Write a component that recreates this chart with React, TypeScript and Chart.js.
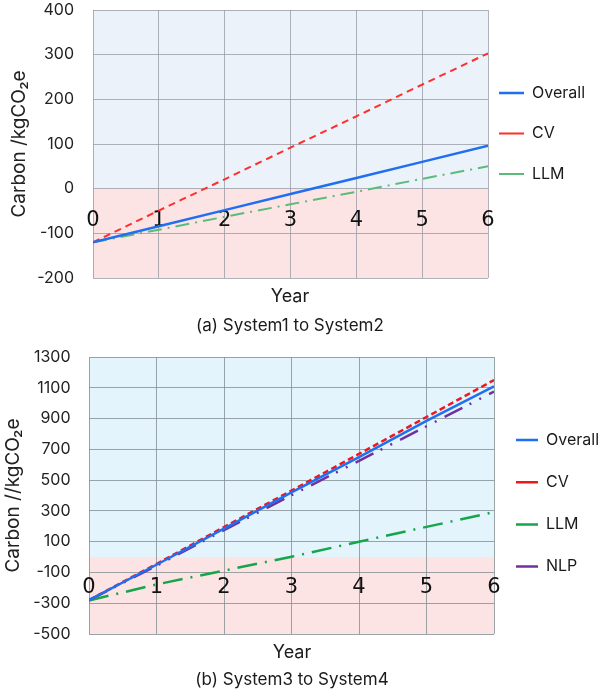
import React, { useEffect, useRef } from "react";
import { Chart, registerables } from "chart.js";
Chart.register(...registerables);

// ---------- (a) System1 to System2 ----------
const years = [0, 1, 2, 3, 4, 5, 6];
const aOverall = [-120, -84, -48, -12, 24, 60, 96];
const aCV = [-120, -49, 21, 92, 162, 233, 303];
const aLLM = [-120, -92, -63, -35, -7, 22, 50];
const aYMin = -200;
const aYMax = 400;
const aYStep = 100;

// ---------- (b) System3 to System4 ----------
const bOverall = [-280, -50, 185, 420, 650, 885, 1110];
const bCV = [-280, -45, 195, 432, 670, 910, 1150];
const bLLM = [-282, -178, -88, 2, 100, 196, 292];
const bNLP = [-280, -57, 175, 402, 625, 850, 1075];
const bYMin = -500;
const bYMax = 1300;
const bYStep = 200;

const xMin = 0;
const xMax = 6;

const bands = (above: string, below: string) => ({
  id: "bands",
  beforeDraw(chart: any) {
    const { ctx, chartArea, scales } = chart;
    const { left, right, top, bottom } = chartArea;
    const z = scales.y.getPixelForValue(0);
    ctx.save();
    ctx.fillStyle = above;
    ctx.fillRect(left, top, right - left, z - top);
    ctx.fillStyle = below;
    ctx.fillRect(left, z, right - left, bottom - z);
    ctx.restore();
  },
});

const placeLegend = (x: number, centerY: number) => ({
  id: "placeLegend",
  afterLayout(chart: any) {
    const lg = chart.legend;
    if (!lg) return;
    const P = lg.options.labels.padding;
    const fs = lg.options.labels.font.size;
    lg.left = x - P;
    lg.right = lg.left + 300;
    lg.top = centerY - fs / 2 - P;
    lg.bottom = lg.top + 400;
  },
});

type Series = { label: string; values: number[]; color: string; width: number; dash: number[] };

function makeConfig(o: any) {
  return {
    type: "line",
    data: {
      datasets: o.series.map((s: Series) => ({
        label: s.label,
        data: years.map((x, i) => ({ x, y: s.values[i] })),
        borderColor: s.color,
        backgroundColor: s.color,
        borderWidth: s.width,
        borderDash: s.dash,
        pointRadius: 0,
        tension: 0,
        fill: false,
      })),
    },
    options: {
      responsive: false,
      animation: false,
      devicePixelRatio: 1,
      layout: { padding: { left: 0, right: o.padRight, top: o.padTop, bottom: o.padBottom } },
      plugins: {
        legend: {
          position: "chartArea",
          align: "start",
          labels: {
            usePointStyle: true,
            pointStyle: "line",
            pointStyleWidth: o.legendLineW,
            padding: o.legendPad,
            font: { family: "Inter", size: 16 },
            color: "#1a1a1a",
          },
        },
        tooltip: { enabled: false },
      },
      scales: {
        x: {
          type: "linear",
          position: { y: 0 },
          min: xMin,
          max: xMax,
          afterFit: (s: any) => {
            s.height = 0;
            s.paddingLeft = 0;
            s.paddingRight = 0;
          },
          ticks: {
            stepSize: 1,
            font: { family: "DejaVu Sans", size: 21 },
            color: "#111",
            padding: o.xTickPad,
            maxRotation: 0,
          },
          grid: { color: o.gridColor, lineWidth: 1, drawTicks: false },
          border: { display: false },
        },
        y: {
          type: "linear",
          min: o.yMin,
          max: o.yMax,
          afterFit: (s: any) => {
            s.width = o.yWidth;
            s.paddingTop = 0;
            s.paddingBottom = 0;
          },
          ticks: {
            stepSize: o.yStep,
            font: { family: "Inter", size: 16 },
            color: "#222",
            padding: o.yTickPad,
            callback: (v: any) => String(v),
          },
          grid: { color: o.gridColor, lineWidth: 1, drawTicks: false },
          border: { display: false },
          title: {
            display: true,
            text: o.yTitle,
            font: { family: "Inter", size: 19 },
            color: "#222",
            padding: { top: o.yTitlePad, bottom: 0 },
          },
        },
      },
    },
    plugins: [bands(o.above, o.below), placeLegend(o.legendX, o.legendY)],
  };
}

function ChartCanvas({ config, width, height }: any) {
  const ref = useRef<HTMLCanvasElement | null>(null);
  useEffect(() => {
    if (!ref.current) return;
    const chart = new Chart(ref.current, config);
    return () => chart.destroy();
  }, []);
  return <canvas ref={ref} width={width} height={height} style={{ display: "block", width, height }} />;
}

const configA = makeConfig({
  series: [
    { label: "Overall", values: aOverall, color: "#1f6ff0", width: 2.5, dash: [] },
    { label: "CV", values: aCV, color: "#ff2e2e", width: 2, dash: [7, 5] },
    { label: "LLM", values: aLLM, color: "#5cba7a", width: 2, dash: [14, 6, 2, 6] },
  ],
  yMin: aYMin,
  yMax: aYMax,
  yStep: aYStep,
  padRight: 118,
  padTop: 10,
  padBottom: 10,
  yWidth: 93,
  yTickPad: 19,
  xTickPad: 19,
  yTitle: "Carbon /kgCO\u2082e",
  yTitlePad: 8,
  gridColor: "rgba(150,152,162,0.75)",
  above: "#ebf2fa",
  below: "#fde4e4",
  legendLineW: 25,
  legendPad: 24.5,
  legendX: 499,
  legendY: 93,
});

const configB = makeConfig({
  series: [
    { label: "Overall", values: bOverall, color: "#1f6ff0", width: 2.5, dash: [] },
    { label: "CV", values: bCV, color: "#f0161c", width: 2.5, dash: [6, 3.5] },
    { label: "LLM", values: bLLM, color: "#16a54a", width: 2.5, dash: [20, 8, 2, 8] },
    { label: "NLP", values: bNLP, color: "#7030a0", width: 2.5, dash: [20, 8, 2, 9, 2, 9] },
  ],
  yMin: bYMin,
  yMax: bYMax,
  yStep: bYStep,
  padRight: 112,
  padTop: 12,
  padBottom: 10,
  yWidth: 89,
  yTickPad: 18.5,
  xTickPad: 18,
  yTitle: "Carbon //kgCO\u2082e",
  yTitlePad: 2,
  gridColor: "rgba(130,142,146,0.8)",
  above: "#e3f4fc",
  below: "#fde4e4",
  legendLineW: 22,
  legendPad: 26.2,
  legendX: 516,
  legendY: 95,
});

const textStyle = (cx: number, cy: number, size: number): React.CSSProperties => ({
  position: "absolute",
  left: cx - 200,
  width: 400,
  top: cy - 12,
  height: 24,
  lineHeight: "24px",
  textAlign: "center",
  fontFamily: "Inter",
  fontSize: size,
  color: "#1a1a1a",
  whiteSpace: "nowrap",
});

export default function App() {
  return (
    <div style={{ position: "fixed", left: 0, top: 0, width: 606, height: 696, background: "#fff", overflow: "hidden" }}>
      <div style={{ position: "absolute", left: 0, top: 0 }}>
        <ChartCanvas config={configA} width={606} height={288} />
      </div>
      <div style={textStyle(290, 296, 18)}>Year</div>
      <div style={textStyle(290, 325, 17)}>(a) System1 to System2</div>
      <div style={{ position: "absolute", left: 0, top: 345 }}>
        <ChartCanvas config={configB} width={606} height={299} />
      </div>
      <div style={textStyle(292, 652, 18)}>Year</div>
      <div style={textStyle(292, 679, 17)}>(b) System3 to System4</div>
    </div>
  );
}
